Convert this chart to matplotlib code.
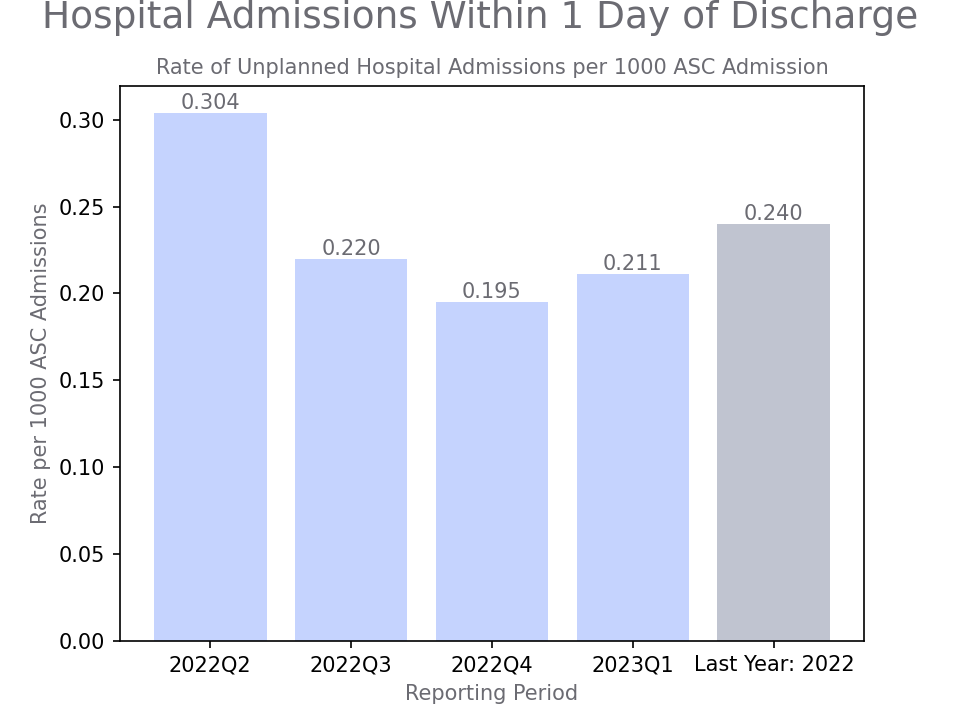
import matplotlib
matplotlib.use('Agg')
import matplotlib.pyplot as plt

periods = ['2022Q2', '2022Q3', '2022Q4', '2023Q1', 'Last Year: 2022']
rates = [0.304, 0.220, 0.195, 0.211, 0.240]
bar_colors = ['#c5d3fe', '#c5d3fe', '#c5d3fe', '#c5d3fe', '#c0c4d0']

text_gray = '#6b6b72'

fig, ax = plt.subplots(figsize=(6.4, 4.8), dpi=150)
bars = ax.bar(periods, rates, color=bar_colors, width=0.8)
ax.bar_label(bars, labels=[f'{r:.3f}' for r in rates], color=text_gray, fontsize=10)

ax.set_xlabel('Reporting Period', color=text_gray)
ax.set_ylabel('Rate per 1000 ASC Admissions', color=text_gray)
ax.set_title('Rate of Unplanned Hospital Admissions per 1000 ASC Admission', color=text_gray, fontsize=10)
fig.suptitle('Hospital Admissions Within 1 Day of Discharge', color=text_gray, fontsize=18, y=0.961, va='baseline')

plt.savefig('out.png')
